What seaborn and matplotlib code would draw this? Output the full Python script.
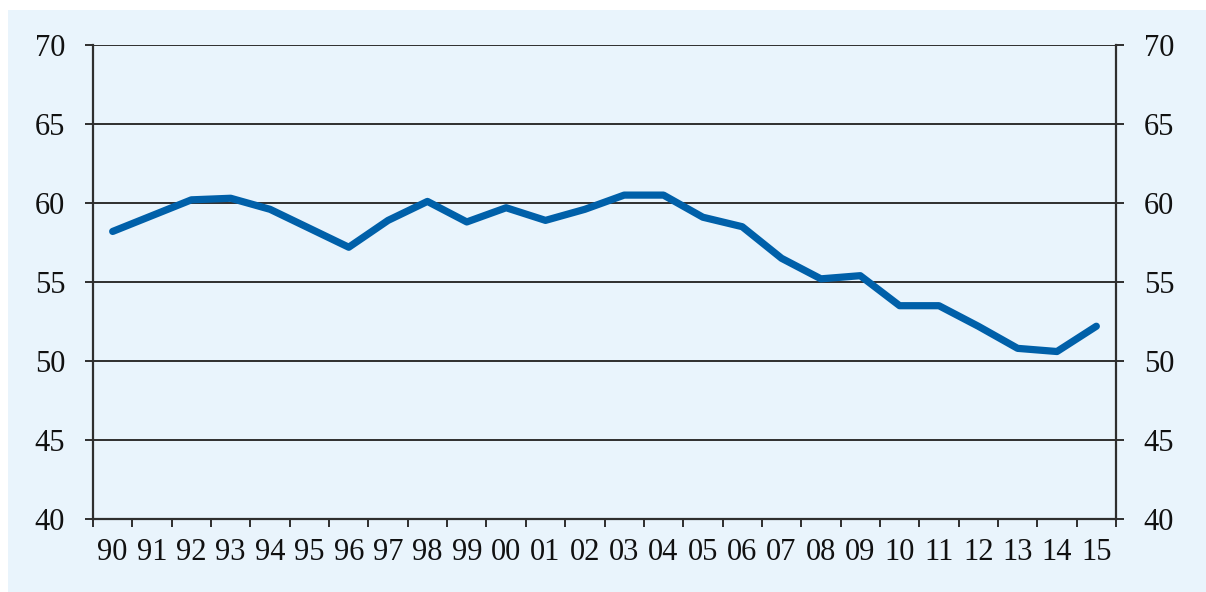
import matplotlib
matplotlib.use("Agg")
import matplotlib.pyplot as plt
import seaborn as sns
import pandas as pd
import numpy as np
from matplotlib.patches import Rectangle

# years shown on the x axis (two-digit labels) and the series values
years = ["90", "91", "92", "93", "94", "95", "96", "97", "98", "99",
         "00", "01", "02", "03", "04", "05", "06", "07", "08", "09",
         "10", "11", "12", "13", "14", "15"]
values = [58.2, 59.2, 60.2, 60.3, 59.6, 58.4, 57.2, 58.9, 60.1, 58.8,
          59.7, 58.9, 59.6, 60.5, 60.5, 59.1, 58.5, 56.5, 55.2, 55.4,
          53.5, 53.5, 52.2, 50.8, 50.6, 52.2]
y_ticks = [40, 45, 50, 55, 60, 65, 70]

BG = "#e9f4fc"
LINE = "#0060a9"
GRID = "#2e2e2e"

sns.set_theme(style="white")
plt.rcParams["font.family"] = ["Liberation Serif", "DejaVu Serif"]

fig = plt.figure(figsize=(12.06, 5.92), dpi=100, facecolor="white")
# light-blue panel behind everything (white strip at top/left)
fig.patches.append(Rectangle((8 / 1206, -0.05), 1.1, 1.05 - 10 / 592,
                             transform=fig.transFigure, facecolor=BG,
                             edgecolor="none", zorder=-10))

ax = fig.add_axes([93 / 1206, (592 - 519) / 592,
                   (1116 - 93) / 1206, (519 - 45) / 592])
ax.set_facecolor(BG)

df = pd.DataFrame({"pos": np.arange(len(years)), "value": values})
sns.lineplot(data=df, x="pos", y="value", ax=ax, color=LINE,
             linewidth=5.2, sort=False, zorder=5)

ax.set_xlim(-0.5, len(years) - 0.5)
ax.set_ylim(40, 70)

# horizontal gridlines
for yv in y_ticks[1:]:
    ax.axhline(yv, color=GRID, linewidth=1.4, zorder=2)

ax.set_xticks(np.arange(len(years)))
ax.set_xticklabels(years)
ax.set_xticks(np.arange(len(years) + 1) - 0.5, minor=True)
ax.tick_params(axis="x", which="major", length=0, pad=14, labelsize=22,
               colors="#111111")
ax.tick_params(axis="x", which="minor", length=6, width=1.4,
               color=GRID, direction="out", bottom=True)

ax.set_yticks(y_ticks)
ax.tick_params(axis="y", which="major", length=6, width=1.4,
               direction="out", left=True, right=True, labelleft=True,
               labelright=True, labelsize=22, colors="#111111", pad=14)
ax.tick_params(axis="y", which="major", color=GRID)

ax.set_xlabel("")
ax.set_ylabel("")

for side in ["left", "right", "bottom"]:
    ax.spines[side].set_visible(True)
    ax.spines[side].set_color(GRID)
    ax.spines[side].set_linewidth(1.6)
ax.spines["top"].set_visible(False)

fig.savefig("out.png", dpi=100, facecolor="white")
